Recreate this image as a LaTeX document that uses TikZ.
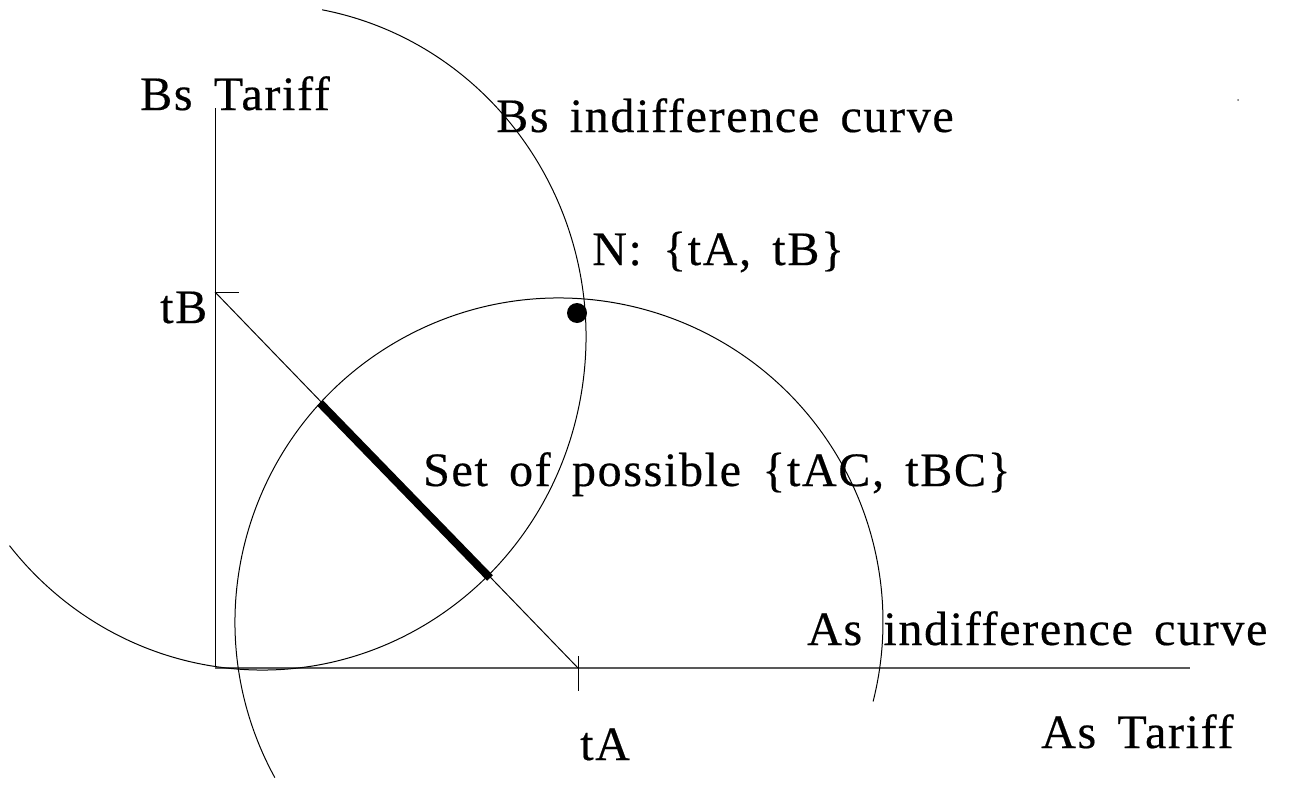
\documentclass[tikz,border=0pt]{standalone}
\usepackage{fontspec}
\setmainfont{Liberation Serif}[LetterSpace=3.5,WordSpace=1.55,FakeBold=0.4]
\begin{document}
\begin{tikzpicture}[x=1pt,y=1pt,
  lbl/.style={inner sep=0pt, anchor=base west, font=\fontsize{48}{56}\selectfont},
  plain/.style={line width=1pt, black},
  haxis/.style={line width=1.6pt, black!65},
  segbar/.style={line width=8pt, black},
  dotmark/.style={circle, fill=black, inner sep=0pt, minimum size=20pt}]
\useasboundingbox (0,0) rectangle (1290,-792);
% axes and ticks
\coordinate (O) at (215,-668);
\coordinate (Ytop) at (215,-108);
\coordinate (Xend) at (1190,-668);
\coordinate (tBpt) at (215,-292);
\coordinate (tBtick) at (239,-292);
\coordinate (tApt) at (578,-668);
\coordinate (tAtop) at (578,-656);
\coordinate (tAbot) at (578,-691);
\coordinate (S1) at (320,-403);
\coordinate (S2) at (490,-578);
\draw[plain] (Ytop) -- (O);
\draw[haxis] (O) -- (Xend);
\draw[plain] (tBpt) -- (tBtick);
\draw[plain] (tAtop) -- (tAbot);
\draw[plain] (tBpt) -- (tApt);
\draw[segbar] (S1) -- (S2);
% indifference curves
\draw[plain] (262,-337) ++(79.3:324 and 333) arc[start angle=79.3, end angle=-141.2, x radius=324, y radius=333];
\draw[plain] (559,-622) ++(208.7:324) arc[start angle=208.7, end angle=-14.2, radius=324];
% Nash point
\node[dotmark] (N) at (577,-313) {};
% speck
\fill[black!60] (1238,-100) circle (1pt);
% labels
\node[lbl] (bst) at (140,-110) {Bs Tariff};
\node[lbl] (bsi) at (496,-132) {Bs indifference curve};
\node[lbl] (nlab) at (592,-265) {N: \{tA, tB\}};
\node[lbl] (setl) at (423,-486) {Set of possible \{tAC, tBC\}};
\node[lbl] (asi) at (807,-645) {As indifference curve};
\node[lbl] (ast) at (1041,-748) {As Tariff};
\node[lbl] (tal) at (580,-760) {tA};
\node[lbl] (tbl) at (160,-323) {tB};
\end{tikzpicture}
\end{document}
